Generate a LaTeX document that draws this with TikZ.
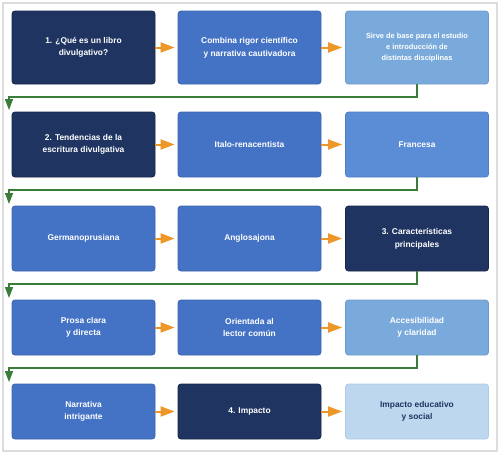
\documentclass[tikz,border=0pt]{standalone}
\usepackage{fontspec}
\setmainfont{Liberation Sans}
\usetikzlibrary{arrows.meta}
\definecolor{cdark}{HTML}{1F3461}
\definecolor{cdarkb}{HTML}{152649}
\definecolor{cmid}{HTML}{4472C4}
\definecolor{cmidb}{HTML}{3A64B0}
\definecolor{cmidtwo}{HTML}{5B8DD6}
\definecolor{cmidtwob}{HTML}{4F7FC6}
\definecolor{clight}{HTML}{7AAADB}
\definecolor{clightb}{HTML}{6C9CCE}
\definecolor{cpale}{HTML}{BDD7EE}
\definecolor{cpaleb}{HTML}{AECBE6}
\definecolor{corange}{HTML}{EE9628}
\definecolor{cgreen}{HTML}{3A7D38}
\definecolor{cframe}{HTML}{DDDDDD}
\begin{document}
\begin{tikzpicture}[x=1pt,y=-1pt,
  box/.style={rectangle, rounded corners=3pt, minimum width=143pt, inner sep=0pt,
    align=center, line width=0.8pt, text=white, font=\bfseries\fontsize{8.4}{12.6}\selectfont},
  dark/.style={box, fill=cdark, draw=cdarkb},
  mid/.style={box, fill=cmid, draw=cmidb},
  midtwo/.style={box, fill=cmidtwo, draw=cmidtwob},
  light/.style={box, fill=clight, draw=clightb},
  pale/.style={box, fill=cpale, draw=cpaleb, text=cdark},
  smalltext/.style={font=\bfseries\fontsize{7.4}{11}\selectfont},
  h1/.style={minimum height=73pt},
  h2/.style={minimum height=65pt},
  h3/.style={minimum height=55pt},
  flow/.style={draw=corange, line width=2pt, -{Triangle[length=14pt,width=10pt]}, shorten >=3pt},
  wrap/.style={draw=cgreen, line width=1.3pt, -{Triangle[length=11pt,width=8pt]}}
]
\useasboundingbox (0,0) rectangle (500,455);
\draw[cframe, line width=1.5pt, fill=white] (3,3) rectangle (497,451);

% row 1
\node[dark,h1] (r1c1) at (83.5,47.5) {1. ¿Qué es un libro\\divulgativo?};
\node[mid,h1] (r1c2) at (249.5,47.5) {Combina rigor científico\\y narrativa cautivadora};
\node[light,h1,smalltext] (r1c3) at (417,47.5) {Sirve de base para el estudio\\e introducción de\\distintas disciplinas};
% row 2
\node[dark,h2] (r2c1) at (83.5,144.5) {2. Tendencias de la\\escritura divulgativa};
\node[mid,h2] (r2c2) at (249.5,144.5) {Italo-renacentista};
\node[midtwo,h2] (r2c3) at (417,144.5) {Francesa};
% row 3
\node[mid,h2] (r3c1) at (83.5,238.5) {Germanoprusiana};
\node[mid,h2] (r3c2) at (249.5,238.5) {Anglosajona};
\node[dark,h2] (r3c3) at (417,238.5) {3. Características\\principales};
% row 4
\node[mid,h3] (r4c1) at (83.5,327.5) {Prosa clara\\y directa};
\node[mid,h3] (r4c2) at (249.5,327.5) {Orientada al\\lector común};
\node[light,h3] (r4c3) at (417,327.5) {Accesibilidad\\y claridad};
% row 5
\node[mid,h3] (r5c1) at (83.5,411.5) {Narrativa\\intrigante};
\node[dark,h3] (r5c2) at (249.5,411.5) {4. Impacto};
\node[pale,h3] (r5c3) at (417,411.5) {Impacto educativo\\y social};

% horizontal arrows
\foreach \r in {1,...,5}{
  \draw[flow] (r\r c1.east) -- (r\r c2.west);
  \draw[flow] (r\r c2.east) -- (r\r c3.west);
}

% wrap connectors
\coordinate (t2) at (9,110);
\coordinate (t3) at (9,204);
\coordinate (t4) at (9,298);
\coordinate (t5) at (9,382);
\draw[wrap] (r1c3.south) |- (t2 |- 0,97) -- (t2);
\draw[wrap] (r2c3.south) |- (t3 |- 0,190) -- (t3);
\draw[wrap] (r3c3.south) |- (t4 |- 0,284) -- (t4);
\draw[wrap] (r4c3.south) |- (t5 |- 0,368) -- (t5);
\end{tikzpicture}
\end{document}
